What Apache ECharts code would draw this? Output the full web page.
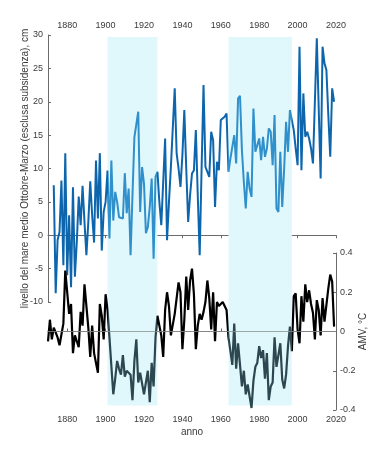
<!DOCTYPE html>
<html><head><meta charset="utf-8">
<script src="https://cdn.jsdelivr.net/npm/echarts@6/dist/echarts.min.js"></script>
<style>html,body{margin:0;padding:0;background:#fff}#c{width:372px;height:461px}</style>
</head><body><div id="c"></div>
<script>
var seaStartYear = 1873;
var seaLevel = [7.5,-8.7,-0.7,0.5,8.2,-4.5,12.3,-6,3,-7.8,7.2,-6.2,-1,5.8,1.5,7.4,2,-3,2,8.1,3,-1.1,11.2,2.5,12.3,-2.3,3.5,5,
9.7,-0.5,11.2,2.2,6.5,5,2.7,2.5,2.5,9.3,3.3,7,-3,6,14.7,14.7,18.5,3.5,10.2,7.75,0.3,1.25,4.25,8.5,-3.5,8.75,9.5,
5,1.5,8,14.5,-0.75,5,10.2,10.2,22,12.25,10,7.25,12,18.75,10,2,6,9.25,9.75,15.75,6,-3,10,22.5,10.25,9.5,8.75,15.5,14.25,4.25,11,9.75,17.25,17,17.75,18.25,
9.5,11.5,11.5,15,10.75,20.5,20.9,12.75,8,4,9.5,7,5.75,19,12.5,13.5,14.5,11.25,14.75,11.75,13,16,15.5,10.5,18,4,3.5,12.5,4.25,10,17,12.5,18.75,19,
15.75,13,10.5,28.25,9.75,21.25,14.75,15.5,14.5,13,10.75,20,29.5,19,8.5,28.25,25.75,24.75,18,11.75,22,20];
var amvStartYear = 1870;
var amv = [-0.05,0.06,-0.04,0.02,0.02,-0.03,-0.07,-0.07,0.04,0.31,0.32,0.09,0.14,-0.11,-0.02,-0.03,-0.08,0.10,0.03,0.24,0.24,0.02,-0.13,0.03,-0.11,-0.10,-0.21,0.14,0.08,-0.04,0.19,0.11,-0.03,
-0.02,-0.32,-0.24,-0.15,-0.19,-0.22,-0.12,-0.23,-0.20,-0.21,-0.22,-0.35,-0.15,-0.04,-0.26,-0.21,-0.21,-0.32,-0.31,-0.20,-0.36,-0.16,-0.28,-0.03,
0.08,0.03,-0.02,-0.13,0.11,0.20,0.13,-0.02,-0.01,0.09,0.08,0.25,0.20,-0.09,0.06,0.28,0.11,0.26,0.32,0.19,-0.09,0.03,0.09,0.06,0.10,0.15,0.26,0.17,0.01,0.20,-0.05,0.15,0.13,0.13,0.15,0.13,0.11,
-0.03,-0.10,-0.17,0.04,-0.19,-0.06,-0.05,-0.28,-0.20,-0.32,-0.27,-0.33,-0.39,-0.25,-0.18,-0.16,-0.075,-0.135,-0.095,-0.24,-0.11,-0.35,-0.28,-0.26,-0.03,-0.18,-0.18,-0.06,-0.245,-0.29,-0.22,-0.075,0.025,-0.10,
0.18,0.195,0.01,-0.06,0.18,0.05,0.24,0.15,0.21,0.14,0.095,-0.04,0.16,0.11,-0.02,0.17,0.05,0.045,0.22,0.29,0.255,0.025];
var shadedPeriods = [[1901,1927],[1964,1997]];
var yearTicks = [1880,1900,1920,1940,1960,1980,2000,2020];
var seaTicks = [-10,-5,0,5,10,15,20,25,30];
var amvTicks = [-0.4,-0.2,0,0.2,0.4];

var seaData = seaLevel.map(function(v,i){return [seaStartYear+i,v];});
var amvData = amv.map(function(v,i){return [amvStartYear+i,v];});

var FONT = 'Liberation Sans, Arial, sans-serif';
var axisCol = '#6b6b6b', txtCol = '#3a3a3a';
function yearFmt(v){return String(Math.round(v));}
function pieces(outC,inC){
  var p=[{lt:shadedPeriods[0][0],color:outC}];
  shadedPeriods.forEach(function(s,i){
    p.push({gte:s[0],lt:s[1],color:inC});
    var nx = shadedPeriods[i+1];
    if(nx) p.push({gte:s[1],lt:nx[0],color:outC}); else p.push({gte:s[1],color:outC});
  });
  return p;
}
var chart = echarts.init(document.getElementById('c'),null,{renderer:'canvas'});
chart.setOption({
  animation:false,
  textStyle:{fontFamily:FONT},
  grid:[
    {left:48,right:36,top:35,height:267,outerBoundsMode:'none',containLabel:false},
    {left:48,right:36,top:253,height:157,outerBoundsMode:'none',containLabel:false},
    {left:48,right:36,top:35,height:375,outerBoundsMode:'none',containLabel:false}
  ],
  xAxis:[
    {gridIndex:0,type:'value',position:'top',min:1870,max:2020,interval:10,
     axisLine:{show:true,lineStyle:{color:axisCol,width:1}},
     axisTick:{show:true,inside:true,length:3,customValues:yearTicks,lineStyle:{color:axisCol}},
     axisLabel:{customValues:yearTicks,formatter:yearFmt,fontSize:9,color:txtCol,margin:5,fontFamily:FONT},
     splitLine:{show:false}},
    {gridIndex:1,type:'value',position:'bottom',min:1870,max:2020,interval:10,
     name:'anno',nameLocation:'middle',nameGap:17,nameMoveOverlap:false,nameTextStyle:{fontSize:10,color:txtCol,fontFamily:FONT},
     axisLine:{show:true,lineStyle:{color:axisCol,width:1}},
     axisTick:{show:true,inside:true,length:3,customValues:yearTicks,lineStyle:{color:axisCol}},
     axisLabel:{customValues:yearTicks,formatter:yearFmt,fontSize:9,color:txtCol,margin:5,fontFamily:FONT},
     splitLine:{show:false}},
    {gridIndex:2,type:'value',min:1870,max:2020,show:false}
  ],
  yAxis:[
    {gridIndex:0,type:'value',position:'left',min:-10,max:30,interval:5,
     name:'livello del mare medio Ottobre-Marzo (esclusa subsidenza), cm',
     nameLocation:'middle',nameGap:18,nameRotate:90,nameMoveOverlap:false,nameTextStyle:{fontSize:10,color:txtCol,fontFamily:FONT},
     axisLine:{show:true,lineStyle:{color:axisCol,width:1}},
     axisTick:{show:true,inside:true,length:3,lineStyle:{color:axisCol}},
     axisLabel:{fontSize:9,color:txtCol,margin:5,fontFamily:FONT},
     splitLine:{show:false}},
    {gridIndex:1,type:'value',position:'right',min:-0.4,max:0.4,interval:0.2,
     name:'AMV, °C',nameLocation:'middle',nameGap:22,nameRotate:90,nameMoveOverlap:false,nameTextStyle:{fontSize:10,color:txtCol,fontFamily:FONT},
     axisLine:{show:true,lineStyle:{color:axisCol,width:1}},
     axisTick:{show:true,inside:true,length:3,lineStyle:{color:axisCol}},
     axisLabel:{fontSize:9,color:txtCol,margin:4,fontFamily:FONT},
     splitLine:{show:false}},
    {gridIndex:2,type:'value',min:0,max:1,show:false}
  ],
  visualMap:[
    {type:'piecewise',show:false,seriesIndex:2,dimension:0,pieces:pieces('#0d66ad','#2f90cc')},
    {type:'piecewise',show:false,seriesIndex:3,dimension:0,pieces:pieces('#000000','#2c474f')}
  ],
  series:[
    {type:'line',xAxisIndex:2,yAxisIndex:2,data:[],silent:true,z:1,
     markArea:{silent:true,itemStyle:{color:'#e0f7fb'},
       data:shadedPeriods.map(function(s){return [{xAxis:s[0],yAxis:0.012},{xAxis:s[1],yAxis:0.995}];})}},
    {type:'line',xAxisIndex:1,yAxisIndex:1,data:[],silent:true,z:2,
     markLine:{silent:true,symbol:['none','none'],label:{show:false},
       lineStyle:{color:'#8e8e8e',width:0.8,type:'solid'},data:[{yAxis:0}]}},
    {type:'line',xAxisIndex:0,yAxisIndex:0,data:seaData,showSymbol:false,symbol:'none',z:3,
     lineStyle:{width:2}},
    {type:'line',xAxisIndex:1,yAxisIndex:1,data:amvData,showSymbol:false,symbol:'none',z:3,
     lineStyle:{width:2.2}}
  ]
});
</script>
</body></html>
